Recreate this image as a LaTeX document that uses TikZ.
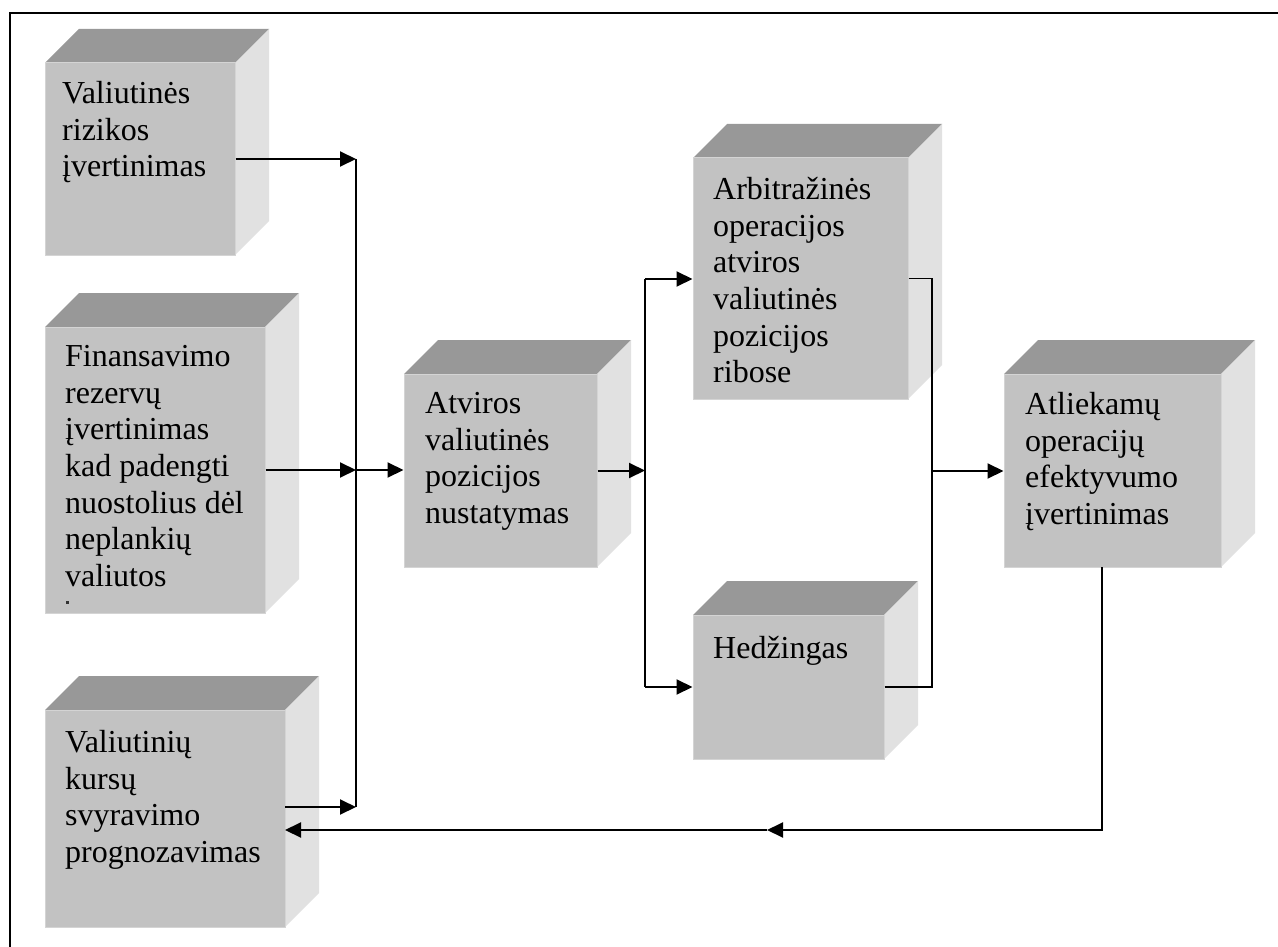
\documentclass[tikz,border=0pt]{standalone}
\usepackage{fontspec}
\setmainfont{Liberation Serif}
\usetikzlibrary{arrows.meta}
\definecolor{frontc}{HTML}{C2C2C2}
\definecolor{topc}{HTML}{989898}
\definecolor{sidec}{HTML}{E1E1E1}
\definecolor{edgec}{HTML}{D4D4D4}
\tikzset{
  frontbox/.style={draw=edgec, line width=1pt, fill=frontc, inner sep=0pt},
  txt/.style={anchor=north west, inner sep=0pt, align=left,
    font=\fontsize{32}{36.7}\selectfont},
  conn/.style={line width=2pt, draw=black},
  thinconn/.style={line width=1.5pt, draw=black},
  arr/.style={conn, -{Triangle[length=16pt,width=15pt]}},
  frame/.style={line width=2pt, draw=black}
}
% #1 name, #2 x1, #3 y1, #4 x2, #5 y2 (front face, pixel coords, y downward)
\newcommand\cubebox[5]{%
  \pgfmathsetmacro\cbw{#4-#2}%
  \pgfmathsetmacro\cbh{#5-#3}%
  \fill[topc] (#2,#3) -- ++(34,-34) -- (#4+34,#3-34) -- (#4,#3) -- cycle;
  \fill[sidec] (#4,#3) -- (#4+34,#3-34) -- (#4+34,#5-34) -- (#4,#5) -- cycle;
  \node[frontbox, minimum width=\cbw pt, minimum height=\cbh pt] (#1) at ({(#2+#4)/2},{(#3+#5)/2}) {};
}
\begin{document}
\begin{tikzpicture}[x=1pt,y=-1pt]
\useasboundingbox (0,0) rectangle (1278,947);
\fill[white] (0,0) rectangle (1278,947);
% frame (only top and left edges visible)
\draw[frame] (10,947) -- (10,13) -- (1278,13);

% boxes
\cubebox{b1}{45}{63}{235}{255}
\cubebox{b2}{45}{327}{265}{613}
\cubebox{b3}{45}{710}{285}{927}
\cubebox{b4}{404}{374}{597}{567}
\cubebox{b5}{693}{158}{908}{399}
\cubebox{b6}{693}{615}{884}{759}
\cubebox{b7}{1004}{374}{1221}{567}

% texts
\node[txt] (t1) at (62,81) {Valiutinės\\rizikos\\įvertinimas};
\node[txt] (t2) at (65,345) {Finansavimo\\rezervų\\įvertinimas\\kad padengti\\nuostolius dėl\\neplankių\\valiutos};
\fill[black!80] (66,601) rectangle (69,604);
\node[txt] (t3) at (65,730) {Valiutinių\\kursų\\svyravimo\\prognozavimas};
\node[txt] (t4) at (425,392) {Atviros\\valiutinės\\pozicijos\\nustatymas};
\node[txt] (t5) at (713,177) {Arbitražinės\\operacijos\\atviros\\valiutinės\\pozicijos\\ribose};
\node[txt] (t6) at (713,636) {Hedžingas};
\node[txt] (t7) at (1025,392) {Atliekamų\\operacijų\\efektyvumo\\įvertinimas};

% coordinates of connector joints
\coordinate (busA) at (356,159);
\coordinate (busB) at (356,807);
\coordinate (b3o) at (285,807);
\coordinate (b3i) at (285,830);
\coordinate (b7o) at (1102,567);
\coordinate (fbm) at (767,830);
\coordinate (busC) at (645,279);
\coordinate (busD) at (645,687);
\coordinate (jn) at (932,471);

% left side collector
\draw[arr] (b1.east) -- (busA);
\draw[conn] (busA) -- (busB);
\draw[arr] (b2.east) -- (b2.east -| busA);
\draw[arr] (b3o) -- (busB);
\draw[arr] (b2.east -| busA) -- (b2.east -| b4.west);

% branch to arbitrage / hedging
\draw[arr] (b4.east) -- (b4.east -| busC);
\draw[conn] (busC) -- (busD);
\draw[arr] (busC) -- (busC -| b5.west);
\draw[arr] (busD) -- (busD -| b6.west);

% join and to evaluation
\draw[thinconn] (b5.east) -| (jn);
\draw[thinconn] (b6.east) -| (jn);
\draw[arr] (jn) -- (jn -| b7.west);

% feedback
\draw[arr] (b7o) |- (fbm);
\draw[arr] (fbm) -- (b3i);
\end{tikzpicture}
\end{document}
